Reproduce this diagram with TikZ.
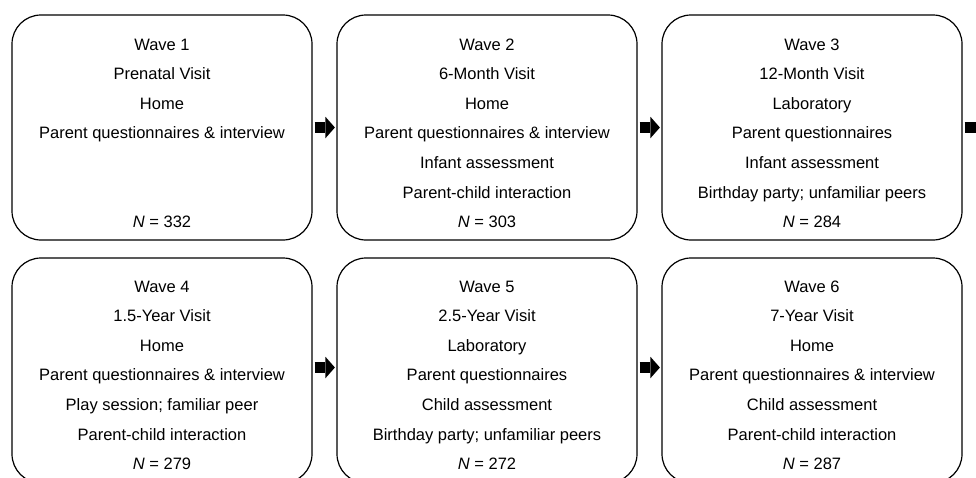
\documentclass[tikz,border=0pt]{standalone}
\usepackage{fontspec}
\setmainfont{Liberation Sans}
\usetikzlibrary{arrows.meta}
\begin{document}
\begin{tikzpicture}[x=1pt,y=-1pt,
 box/.style={draw=black, line width=1.2pt, rounded corners=29pt, minimum width=300pt, minimum height=225pt, inner sep=0pt},
 lab/.style={anchor=base, inner sep=0pt, font=\fontsize{16.5}{20}\selectfont},
 arr/.style={line width=10.5pt, -{Triangle[width=21.5pt,length=9.5pt,line width=0pt]}, shorten <=2pt, shorten >=1.5pt}]
\useasboundingbox (0,0) rectangle (976,477);
% boxes
\node[box] (w1) at (162,127.5) {};
\node[box] (w2) at (487,127.5) {};
\node[box] (w3) at (812,127.5) {};
\node[box] (w4) at (162,370.5) {};
\node[box] (w5) at (487,370.5) {};
\node[box] (w6) at (812,370.5) {};
% texts
\foreach \t [count=\i from 0] in {{Wave 1},{Prenatal Visit},{Home},{Parent questionnaires \& interview}}
  \node[lab] (w1t\i) at (162,{50+29.6*\i}) {\t};
\node[lab] (w1n) at (162,227.6) {\textit{N} = 332};
\foreach \t [count=\i from 0] in {{Wave 2},{6-Month Visit},{Home},{Parent questionnaires \& interview},{Infant assessment},{Parent-child interaction},{\textit{N} = 303}}
  \node[lab] (w2t\i) at (487,{50+29.6*\i}) {\t};
\foreach \t [count=\i from 0] in {{Wave 3},{12-Month Visit},{Laboratory},{Parent questionnaires},{Infant assessment},{Birthday party; unfamiliar peers},{\textit{N} = 284}}
  \node[lab] (w3t\i) at (812,{50+29.6*\i}) {\t};
\foreach \t [count=\i from 0] in {{Wave 4},{1.5-Year Visit},{Home},{Parent questionnaires \& interview},{Play session; familiar peer},{Parent-child interaction},{\textit{N} = 279}}
  \node[lab] (w4t\i) at (162,{292+29.6*\i}) {\t};
\foreach \t [count=\i from 0] in {{Wave 5},{2.5-Year Visit},{Laboratory},{Parent questionnaires},{Child assessment},{Birthday party; unfamiliar peers},{\textit{N} = 272}}
  \node[lab] (w5t\i) at (487,{292+29.6*\i}) {\t};
\foreach \t [count=\i from 0] in {{Wave 6},{7-Year Visit},{Home},{Parent questionnaires \& interview},{Child assessment},{Parent-child interaction},{\textit{N} = 287}}
  \node[lab] (w6t\i) at (812,{292+29.6*\i}) {\t};
% arrows
\coordinate (out) at (987.5,127.5);
\draw[arr] (w1.east) -- (w2.west);
\draw[arr] (w2.east) -- (w3.west);
\draw[arr] (w3.east) -- (out);
\draw[arr] ([yshift=3pt]w4.east) -- ([yshift=3pt]w5.west);
\draw[arr] ([yshift=3pt]w5.east) -- ([yshift=3pt]w6.west);
\end{tikzpicture}
\end{document}
